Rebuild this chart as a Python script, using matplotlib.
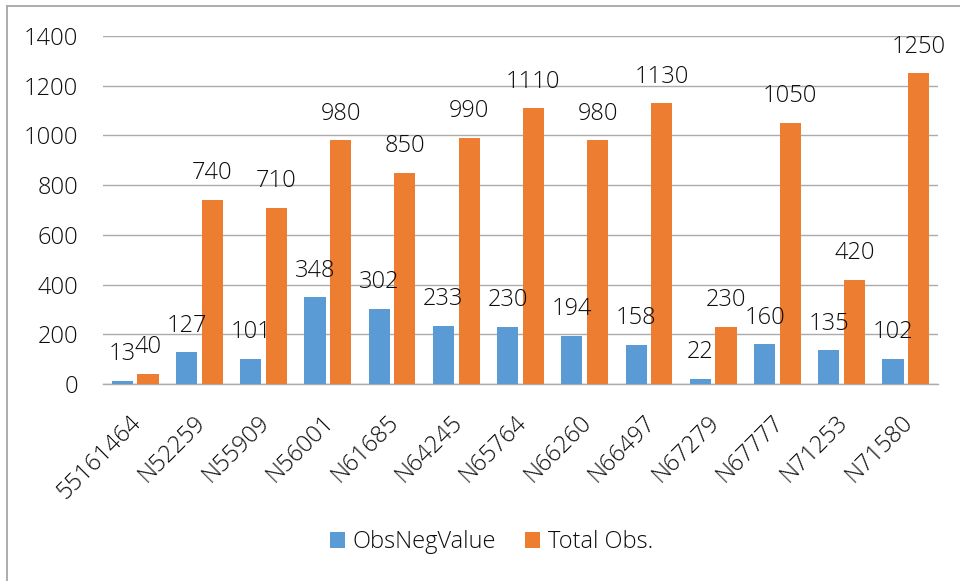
import numpy as np
import matplotlib.pyplot as plt
import matplotlib.transforms as mtrans
from matplotlib.lines import Line2D

plt.rcParams['font.family'] = ['Open Sans', 'DejaVu Sans']
plt.rcParams['font.weight'] = 'light'

categories = ['55161464', 'N52259', 'N55909', 'N56001', 'N61685', 'N64245', 'N65764',
              'N66260', 'N66497', 'N67279', 'N67777', 'N71253', 'N71580']
obs_neg = [13, 127, 101, 348, 302, 233, 230, 194, 158, 22, 160, 135, 102]
total_obs = [40, 740, 710, 980, 850, 990, 1110, 980, 1130, 230, 1050, 420, 1250]

blue = '#5B9BD5'
orange = '#ED7D31'
txt = '#0D0D0D'
fs = 17

fig = plt.figure(figsize=(9.6, 5.81), dpi=100)
ax = fig.add_axes([103/960, 1-384/581, (938-103)/960, (384-36)/581])

x = np.arange(len(categories))
w = 0.33
b1 = ax.bar(x - 0.2, obs_neg, w, color=blue, label='ObsNegValue', zorder=3)
b2 = ax.bar(x + 0.2, total_obs, w, color=orange, label='Total Obs.', zorder=3)

for bars, vals in ((b1, obs_neg), (b2, total_obs)):
    for r, v in zip(bars, vals):
        ax.annotate(str(v), (r.get_x() + r.get_width()/2, v), xytext=(0, 10.5),
                    textcoords='offset points', ha='center', va='bottom',
                    fontsize=fs, color=txt)

ax.set_xlim(-0.5, len(categories) - 0.5)
ax.set_ylim(0, 1400)
ax.set_yticks(range(0, 1401, 200))
ax.yaxis.grid(True, color='#ABABAB', linewidth=1.0, zorder=0)
ax.set_axisbelow(True)
for s in ['top', 'right', 'left']:
    ax.spines[s].set_visible(False)
ax.spines['bottom'].set_color('#ABABAB')
ax.spines['bottom'].set_linewidth(1.0)
ax.tick_params(length=0, labelsize=fs, colors=txt)
ax.tick_params(axis='y', pad=18)
ax.set_xticks(x)
ax.set_xticklabels(categories, rotation=45, ha='right', rotation_mode='anchor')
ax.tick_params(axis='x', pad=19)
# nudge rotated labels a little to the left
shift = mtrans.ScaledTranslation(-4/72, 0, fig.dpi_scale_trans)
for lbl in ax.get_xticklabels():
    lbl.set_transform(lbl.get_transform() + shift)

fig.legend(handles=[b1, b2], loc='center', bbox_to_anchor=(491.5/960, 1-542/581),
           ncol=2, frameon=False, fontsize=fs, handlelength=0.64, handleheight=0.64,
           columnspacing=1.25, handletextpad=0.3, labelcolor=txt)

# chart border (left and top edges visible)
fig.add_artist(Line2D([7/960, 7/960], [0, 1-6/581], color='#A6A6A6', linewidth=1.3))
fig.add_artist(Line2D([7/960, 1], [1-6/581, 1-6/581], color='#A6A6A6', linewidth=1.3))

fig.savefig('out.png', dpi=100)
